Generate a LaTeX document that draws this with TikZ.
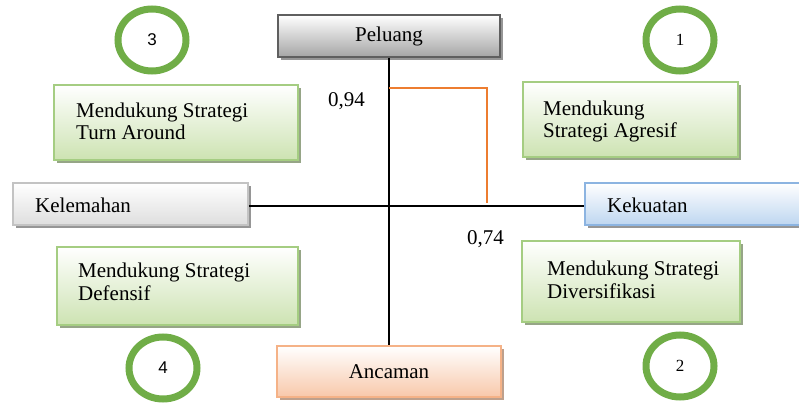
\documentclass[tikz,border=0pt]{standalone}
\usepackage{fontspec}
\setmainfont{Liberation Serif}
\newfontfamily\sansdig{Liberation Sans}
\usetikzlibrary{shadows,shapes.geometric}
\definecolor{gborder}{RGB}{165,205,130}
\definecolor{gfill}{RGB}{205,227,178}
\definecolor{gshadow}{RGB}{150,165,135}
\definecolor{circgreen}{RGB}{112,173,71}
\definecolor{grayborder}{RGB}{95,95,95}
\definecolor{grayfill}{RGB}{165,165,165}
\definecolor{lgborder}{RGB}{195,195,195}
\definecolor{lgfill}{RGB}{222,222,222}
\definecolor{bborder}{RGB}{140,180,225}
\definecolor{bfill}{RGB}{190,214,240}
\definecolor{oborder}{RGB}{245,178,135}
\definecolor{ofill}{RGB}{248,200,170}
\definecolor{orangeln}{rgb}{0.93,0.49,0.19}
\definecolor{shadowgray}{RGB}{150,150,150}
\definecolor{oshadow}{RGB}{190,160,140}
\begin{document}
\begin{tikzpicture}[x=1pt,y=-1pt,
  txt/.style={font=\fontsize{21}{22.5}\selectfont, inner sep=0pt, anchor=base west, align=left},
  boxbase/.style={rectangle, inner sep=0pt, line width=1.5pt, font=\fontsize{21}{22.5}\selectfont},
  gbox/.style={boxbase, draw=gborder, top color=white, bottom color=gfill,
    drop shadow={shadow xshift=3pt, shadow yshift=-3pt, fill=gshadow, opacity=1}},
  circ/.style={ellipse, draw=circgreen, line width=7pt, inner sep=0pt, minimum width=68pt, minimum height=62pt, font=\fontsize{17}{18}\selectfont},
  axisline/.style={line width=1.3pt, draw=black},
  marker/.style={draw=orangeln, line width=1.3pt}
]
\useasboundingbox (0,0) rectangle (799,403);
\clip (0,0) rectangle (799,403);

% circles
\node[circ] (c3) at (152,40) {\sansdig 3};
\node[circ] (c1) at (680,40) {1};
\node[circ] (c4) at (163,368) {\sansdig 4};
\node[circ] (c2) at (680,366) {2};

% axis boxes
\node[boxbase, draw=grayborder, top color=white, bottom color=grayfill,
  drop shadow={shadow xshift=3pt, shadow yshift=-3pt, fill=shadowgray, opacity=1},
  minimum width=222pt, minimum height=42pt] (pel) at (389,36) {Peluang};
\node[boxbase, draw=oborder, top color=white, bottom color=ofill,
  drop shadow={shadow xshift=3pt, shadow yshift=-3pt, fill=oshadow, opacity=1},
  minimum width=224pt, minimum height=51pt] (anc) at (389,371.5) {Ancaman};
\node[boxbase, draw=lgborder, top color=white, bottom color=lgfill,
  drop shadow={shadow xshift=3pt, shadow yshift=-3pt, fill=shadowgray, opacity=1},
  minimum width=235pt, minimum height=42pt] (kel) at (130.5,204) {};
\node[txt] (kelt) at (35,212) {Kelemahan};
\node[boxbase, draw=bborder, top color=white, bottom color=bfill,
  drop shadow={shadow xshift=3pt, shadow yshift=-3pt, fill=shadowgray, opacity=1},
  minimum width=240pt, minimum height=42pt] (kek) at (705,204) {};
\node[txt] (kekt) at (607,212) {Kekuatan};

% green boxes
\node[gbox, minimum width=244pt, minimum height=75pt] (tl) at (176,122.5) {};
\node[txt] (tlt) at (76,140) {Mendukung Strategi\\Turn Around};
\node[gbox, minimum width=215pt, minimum height=75pt] (tr) at (630.5,119.5) {};
\node[txt] (trt) at (543,138) {Mendukung\\Strategi Agresif};
\node[gbox, minimum width=241pt, minimum height=78pt] (bl) at (177.5,286) {};
\node[txt] (blt) at (78,300) {Mendukung Strategi\\Defensif};
\node[gbox, minimum width=218pt, minimum height=81pt] (br) at (631,281.5) {};
\node[txt] (brt) at (547,298) {Mendukung Strategi\\Diversifikasi};

% axes
\draw[axisline] (pel.south) -- (anc.north);
\draw[axisline] ([yshift=-2pt]kel.east) -- ([yshift=-2pt]kek.west);

% orange marker
\coordinate (o1) at (389,88);
\coordinate (o2) at (487,88);
\coordinate (o3) at (487,203);
\draw[marker] (o1) -- (o2) -- (o3);

% values
\node[txt] (v94) at (328,107) {0,94};
\node[txt] (v74) at (467,244) {0,74};
\end{tikzpicture}
\end{document}
